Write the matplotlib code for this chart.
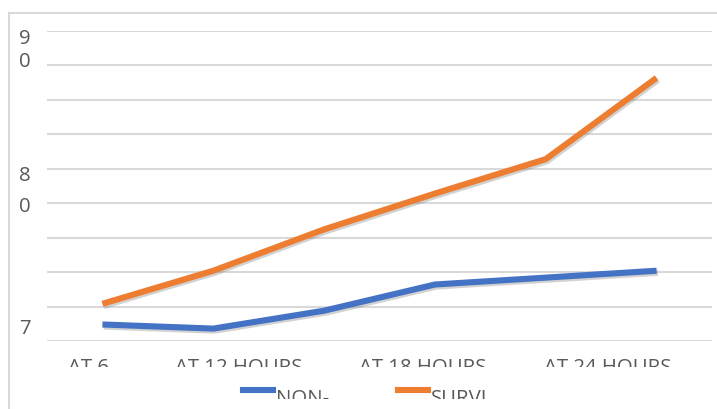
import matplotlib
matplotlib.use("Agg")
import matplotlib.pyplot as plt
import matplotlib.patheffects as pe
from matplotlib.lines import Line2D
from matplotlib.transforms import Bbox, TransformedBbox, blended_transform_factory
import numpy as np

plt.rcParams['font.family'] = ['Open Sans', 'DejaVu Sans']

# data (six time points)
non_survivors = [71.2, 70.9, 72.2, 74.1, 74.6, 75.1]
survivors = [72.7, 75.1, 78.1, 80.7, 83.2, 89.1]
series_names = ['NON-\nSURVIVORS', 'SURVI\nVORS']
series_colors = ['#4472C4', '#ED7D31']

x_labels = ['AT 6\nHOURS', 'AT 12 HOURS', 'AT 18 HOURS', 'AT 24 HOURS']
x_label_pos = [-0.13, 1.23, 2.89, 4.56]   # where Excel put the (skipped) labels

y_labels = ['7\n0', '8\n0', '9\n0']
y_label_vals = [70, 80, 90]
y_label_raise = [22, 37, 36]        # px from gridline up to top of first line
y_label_spacing = [1.15, 1.75, 1.15]

grid_col = '#D9D9D9'
text_col = '#595959'
fs = 14.7

W, H = 717, 410
fig = plt.figure(figsize=(W / 100, H / 100), dpi=100)
ax = fig.add_axes([47 / W, (H - 342) / H, (712 - 47) / W, (342 - 32) / H])

x = np.arange(len(survivors))
shadow = [pe.SimpleLineShadow(offset=(1, -1.5), shadow_color='gray', alpha=0.35), pe.Normal()]
for vals, col in zip([non_survivors, survivors], series_colors):
    ax.plot(x, vals, color=col, lw=4.4, solid_capstyle='butt',
            solid_joinstyle='round', path_effects=shadow, zorder=3)

ax.set_xlim(-0.5, len(x) - 0.5)
ax.set_ylim(70, 92.5)
ax.set_yticks(np.arange(70, 92.6, 2.5))
ax.set_yticklabels([])
ax.grid(axis='y', color=grid_col, lw=1.5)
ax.set_axisbelow(True)
for s in ax.spines.values():
    s.set_visible(False)
ax.tick_params(length=0)

# x labels, cut off at the bottom like the reference
xclip = TransformedBbox(Bbox([[0, 42 / H], [1, 1]]), fig.transFigure)
ax.set_xticks(x_label_pos)
ax.set_xticklabels(x_labels, fontsize=fs, color=text_col, linespacing=1.0)
ax.tick_params(axis='x', pad=11.5)
for t in ax.get_xticklabels():
    t.set_clip_box(xclip)
    t.set_clip_on(True)

# y labels, wrapped and cut off like the reference
yclip = TransformedBbox(Bbox([[0, (H - 338) / H], [1, 1]]), fig.transFigure)
trans = blended_transform_factory(ax.transAxes, ax.transData)
for lbl, v, up, ls in zip(y_labels, y_label_vals, y_label_raise, y_label_spacing):
    t = ax.annotate(lbl, xy=(-0.033, v), xycoords=trans,
                    xytext=(0, (up + 1) * 0.72), textcoords='offset points',
                    ha='center', va='top', fontsize=fs, color=text_col,
                    linespacing=ls, annotation_clip=False)
    t.set_clip_box(yclip)
    t.set_clip_on(True)

# legend, cut off at the bottom
lclip = TransformedBbox(Bbox([[0, 10 / H], [1, 1]]), fig.transFigure)
leg_x = [243, 398]
for name, col, lx in zip(series_names, series_colors, leg_x):
    fig.add_artist(Line2D([lx / W, (lx + 30) / W], [(H - 391) / H] * 2,
                          transform=fig.transFigure, color=col, lw=4.4))
    t = fig.text((lx + 33) / W, (H - 389) / H, name, ha='left', va='top',
                 fontsize=fs, color=text_col)
    t.set_clip_box(lclip)
    t.set_clip_on(True)

# outer chart frame (left and top edges visible)
fig.add_artist(Line2D([8.5 / W, 8.5 / W], [0, (H - 14) / H], transform=fig.transFigure,
                      color=grid_col, lw=1.5))
fig.add_artist(Line2D([8.5 / W, 1], [(H - 14) / H] * 2, transform=fig.transFigure,
                      color=grid_col, lw=1.5))

fig.savefig('out.png', dpi=100)
